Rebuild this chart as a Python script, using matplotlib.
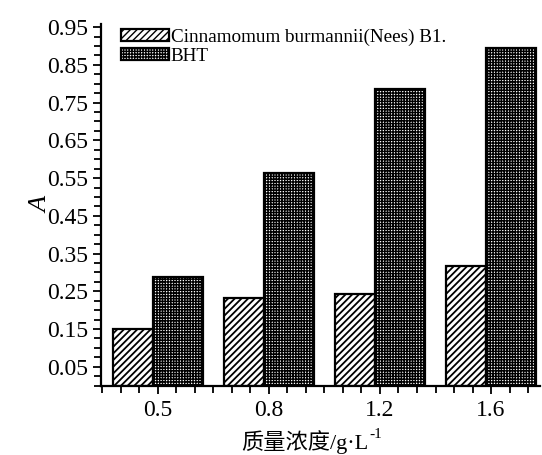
import matplotlib
matplotlib.use("Agg")
import matplotlib.pyplot as plt
import numpy as np
from matplotlib.ticker import MultipleLocator, FixedLocator

plt.rcParams["font.family"] = ["Liberation Serif", "Noto Sans CJK SC"]

categories = ["0.5", "0.8", "1.2", "1.6"]
cinnamomum = [0.150, 0.232, 0.243, 0.317]
bht = [0.288, 0.563, 0.786, 0.894]
series_names = ["Cinnamomum burmannii(Nees) B1.", "BHT"]

fig = plt.figure(figsize=(5.42, 4.55), dpi=100)
ax = fig.add_axes([0.1863, 0.1525, 0.81, 0.7945])

x = np.arange(len(categories))
with plt.rc_context({"hatch.linewidth": 1.3}):
    ax.bar(x - 0.225, cinnamomum, width=0.36, color="white", edgecolor="black",
           hatch="/////", linewidth=1.6, label=series_names[0])
with plt.rc_context({"hatch.linewidth": 1.05}):
    ax.bar(x + 0.18, bht, width=0.45, color="white", edgecolor="black",
           hatch="++++++", linewidth=1.6, label=series_names[1])

ax.set_xlim(-0.51, 3.44)
ax.set_ylim(0, 0.958)

ax.spines["top"].set_visible(False)
ax.spines["right"].set_visible(False)
ax.spines["left"].set_linewidth(1.6)
ax.spines["bottom"].set_linewidth(1.6)

ax.set_xticks(x)
ax.set_xticklabels(categories)
ax.xaxis.set_minor_locator(FixedLocator(np.arange(-3, 21) / 6.0))
ax.set_yticks(np.arange(0.05, 0.96, 0.1))
ax.set_yticklabels(["%.2f" % v for v in np.arange(0.05, 0.96, 0.1)])
ax.yaxis.set_minor_locator(MultipleLocator(0.025))
ax.tick_params(which="both", direction="out", width=1.3, labelsize=17)
ax.tick_params(which="major", length=6)
ax.tick_params(which="minor", length=5)
ax.tick_params(axis="x", pad=4)

ax.set_ylabel("A", fontstyle="italic", fontsize=19, labelpad=-4)

# x label: main part plus a small superscript
ax.text(0.610, -0.155, "质量浓度/g·L", transform=ax.transAxes,
        ha="right", va="center", fontsize=16)
ax.text(0.611, -0.135, "-1", transform=ax.transAxes,
        ha="left", va="center", fontsize=11)

leg = ax.legend(loc="upper left", bbox_to_anchor=(0.045, 0.988), frameon=False,
                fontsize=13.8, handlelength=2.5, handleheight=0.55,
                labelspacing=0.1, handletextpad=0.1, borderaxespad=0, borderpad=0)
# legend swatches are drawn inverted (black with white hatch) in the original
for h in leg.legend_handles:
    if hasattr(h, "set_hatchcolor"):
        h.set_facecolor("black")
        h.set_hatchcolor("white")

fig.savefig("out.png", dpi=100)
